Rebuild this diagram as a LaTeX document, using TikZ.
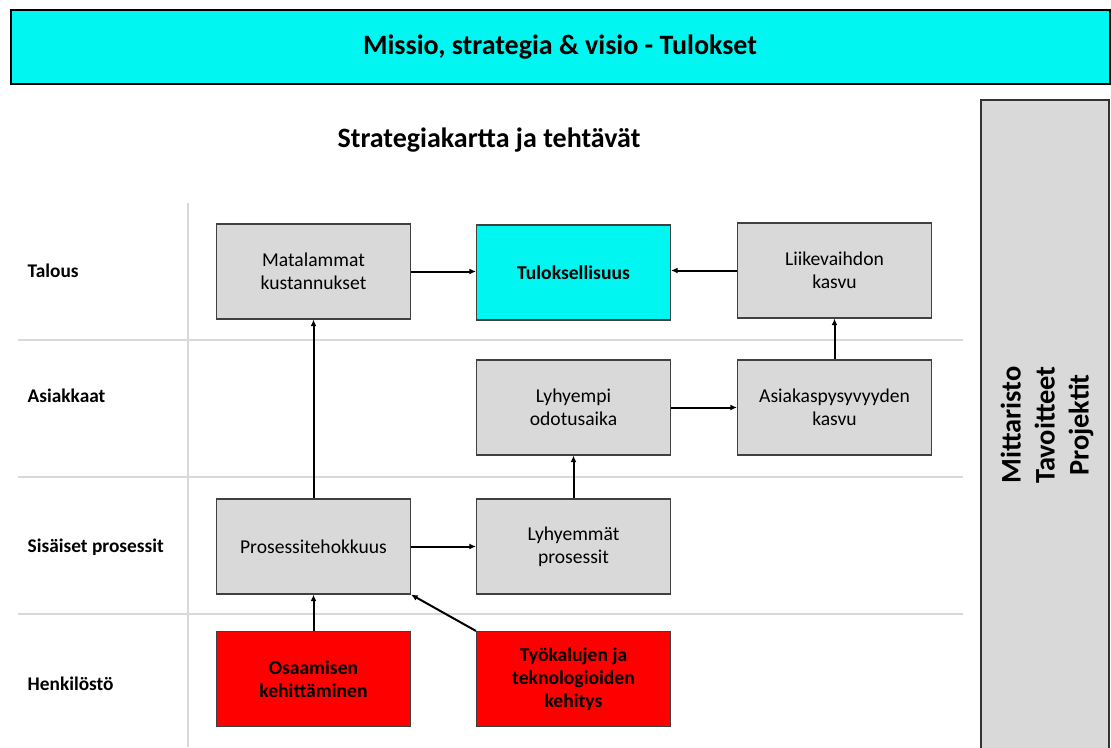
\documentclass[tikz,border=0pt]{standalone}
\usepackage{fontspec}
\setmainfont{Carlito}
\usetikzlibrary{arrows.meta}

\definecolor{tulcyan}{RGB}{0,246,240}
\definecolor{boxgray}{RGB}{217,217,217}
\definecolor{gridgray}{RGB}{217,217,217}

\tikzset{
  box/.style={draw=black!75, line width=0.8pt, fill=boxgray, align=center,
    minimum width=194*0.75pt, minimum height=95*0.75pt, inner sep=2pt,
    font=\fontsize{14.7}{17.5}\selectfont},
  goalbox/.style={box, fill=tulcyan, font=\fontsize{14.7}{17.5}\selectfont\bfseries},
  redbox/.style={box, fill=red, font=\fontsize{14.7}{17.5}\selectfont\bfseries},
  rowlabel/.style={anchor=west, font=\fontsize{14.5}{17}\selectfont\bfseries},
  link/.style={line width=1.5pt, -{Latex[length=5pt,width=4.5pt]}},
  sep/.style={gridgray, line width=1.2pt}
}

\begin{document}
\begin{tikzpicture}[x=0.75pt, y=-0.75pt]
  \useasboundingbox (0,0) rectangle (1111,747);

  % top banner and side panel
  \node[draw=black, line width=1.5pt, fill=tulcyan, minimum width=1099*0.75pt,
    minimum height=74*0.75pt, font=\fontsize{21}{25}\selectfont\bfseries]
    (mission) at (560,47) {Missio, strategia \& visio - Tulokset};
  \draw[draw=black!80, line width=1.2pt, fill=boxgray] (981,100) rectangle (1109,760);
  \node[rotate=90, align=center, font=\fontsize{21.3}{25.5}\selectfont\bfseries]
    (measures) at (1047,425) {Mittaristo\\Tavoitteet\\Projektit};

  \node[font=\fontsize{21}{25}\selectfont\bfseries] (title) at (489,140)
    {Strategiakartta ja tehtävät};

  % perspective rows
  \foreach \y in {340,477,614}
    \draw[sep] (18,\y) -- (963,\y);
  \draw[sep] (188,203) -- (188,747);

  \node[rowlabel] (talous) at (23,271) {Talous};
  \node[rowlabel] (asiakkaat) at (23,396) {Asiakkaat};
  \node[rowlabel] (sisaiset) at (23,547) {Sisäiset prosessit};
  \node[rowlabel] (henkilosto) at (23,684) {Henkilöstö};

  % strategy map
  \node[box] (mat) at (313.5,271.5) {Matalammat\\kustannukset};
  \node[goalbox] (tul) at (573.5,272.5) {Tuloksellisuus};
  \node[box] (lii) at (834.5,270.5) {Liikevaihdon\\kasvu};
  \node[box] (lyh) at (573.5,407.5) {Lyhyempi\\odotusaika};
  \node[box] (asi) at (834.5,407.5) {Asiakaspysyvyyden\\kasvu};
  \node[box] (pro) at (313.5,546.5) {Prosessitehokkuus};
  \node[box] (lyp) at (573.5,546.5) {Lyhyemmät\\prosessit};
  \node[redbox] (osa) at (313.5,679) {Osaamisen\\kehittäminen};
  \node[redbox] (tyo) at (573.5,679) {Työkalujen ja\\teknologioiden\\kehitys};

  \draw[link] (mat.east) -- (mat.east -| tul.west);
  \draw[link] (lii.west) -- (lii.west -| tul.east);
  \draw[link] (asi) -- (lii);
  \draw[link] (lyh) -- (asi);
  \draw[link] (lyp) -- (lyh);
  \draw[link] (pro) -- (mat);
  \draw[link] (pro) -- (lyp);
  \draw[link] (osa) -- (pro);
  \draw[link] (tyo.north west) -- (pro.south east);
\end{tikzpicture}
\end{document}
